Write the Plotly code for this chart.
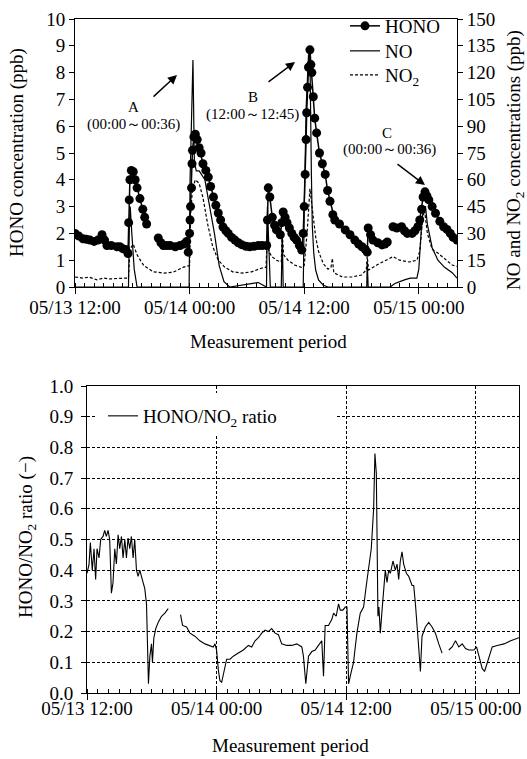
import pandas as pd
import plotly.graph_objects as go

START = pd.Timestamp("2005-05-13 12:00")
W, H = 527, 759

# ---------------- data (hours after 05/13 12:00) ----------------
HONO_T = [0.0, 0.4, 0.84, 1.2, 1.57, 2.0, 2.4, 2.83, 3.1, 3.35, 3.8, 4.4, 4.7, 5.0, 5.3, 5.55,
          5.62, 5.68, 5.75, 5.9, 6.1, 6.3, 6.5, 6.8, 7.1, 7.3, 7.5,
          8.1,
          8.72, 9.0, 9.25, 9.6, 9.95, 10.5, 11.0, 11.4, 11.7, 11.86, 12.0, 12.05, 12.1, 12.2, 12.25,
          12.3, 12.45, 12.6, 12.8, 13.0, 13.2, 13.4, 13.7, 13.96, 14.2, 14.5, 14.75, 15.0, 15.25,
          15.5, 15.8, 16.05, 16.4, 16.75, 17.1, 17.45, 17.9, 18.3, 18.75, 19.2, 19.6, 20.07, 20.15,
          20.24, 20.4, 20.66, 20.9, 21.1, 21.5, 21.65, 21.8, 22.0, 22.2, 22.45, 22.7, 22.95, 23.2,
          23.5, 23.74, 23.9, 24.0, 24.1, 24.2, 24.26, 24.35, 24.45, 24.6, 24.7, 24.8, 24.95, 25.1,
          25.3, 25.6, 25.9, 26.2, 26.45, 26.7, 27.0, 27.2, 27.7, 28.3, 28.8, 29.3, 29.7, 30.05,
          30.4, 30.6, 30.7, 30.95, 31.2, 31.7, 32.15, 32.45, 32.7,
          33.0,
          33.3, 33.7, 34.2, 34.5, 34.8, 35.3, 35.6, 35.9, 36.1, 36.3, 36.45, 36.65, 36.85, 37.05,
          37.4, 37.75, 38.2, 38.6, 38.95, 39.3, 39.6, 40.0]
HONO_V = [2.0, 1.9, 1.8, 1.78, 1.75, 1.7, 1.75, 1.95, 1.75, 1.55, 1.55, 1.5, 1.5, 1.43, 1.4, 1.25,
          2.4, 3.25, 4.0, 4.35, 4.3, 4.0, 3.7, 3.3, 2.9, 2.6, 2.35,
          None,
          1.83, 1.65, 1.55, 1.55, 1.55, 1.5, 1.55, 1.6, 1.7, 1.3, 2.0, 2.5, 3.0, 3.7, 4.6,
          5.1, 5.6, 5.7, 5.5, 5.2, 5.0, 4.6, 4.35, 4.1, 3.75, 3.36, 3.05, 2.76, 2.5,
          2.24, 2.1, 2.0, 1.85, 1.75, 1.65, 1.58, 1.52, 1.5, 1.52, 1.55, 1.55, 1.55, 2.5,
          3.7, 3.36, 2.6, 2.3, 2.13, 1.95, 2.4, 2.8, 2.6, 2.4, 2.2, 2.0, 1.85, 1.75,
          1.55, 1.38, 2.0, 3.0, 4.2, 5.5, 6.5, 7.45, 8.2, 8.85, 8.3, 8.0, 7.1, 6.3,
          5.75, 5.0, 4.6, 4.2, 3.6, 3.2, 2.7, 2.5, 2.35, 2.13, 1.95, 1.75, 1.6, 1.5,
          1.4, 1.3, 2.2, 1.95, 1.75, 1.65, 1.57, 1.6, 1.68,
          None,
          2.25, 2.2, 2.25, 2.1, 2.0, 2.0, 2.1, 2.25, 2.5, 2.9, 3.36, 3.55, 3.4, 3.25,
          3.0, 2.75, 2.45, 2.25, 2.15, 2.0, 1.85, 1.75]

NO_T = [0.0, 5.6, 5.68, 5.78, 5.95, 6.2, 6.5, 11.95, 12.05, 12.2, 12.35, 12.5, 12.7, 13.0, 13.6,
        14.1, 14.6, 15.1, 15.6, 16.2, 17.5, 18.5, 19.2, 19.7, 20.05, 20.15, 20.3, 20.45, 21.6,
        21.7, 21.8, 23.9, 24.0, 24.2, 24.45, 24.6, 24.75, 24.85, 25.0, 25.2, 25.5, 26.0, 26.5,
        30.55, 30.6, 30.7, 33.0, 33.5, 34.5, 35.1, 35.8, 36.0, 36.3, 36.5, 36.7, 36.9, 37.4,
        38.0, 38.7, 39.5, 40.0]
NO_V = [0, 0, 30, 45, 30, 10, 0, 0, 60, 100, 127, 70, 65, 65, 60,
        45, 30, 12, 3, 0, 1, 2, 2.5, 1, 0, 45, 20, 0, 0,
        30, 0, 0, 40, 100, 130, 130, 64, 34, 19, 9.5, 4, 1, 0,
        0, 14, 0, 0, 2, 4, 5, 5, 10, 35, 45, 45, 35, 22,
        15, 11, 8, 5]

NO2_T = [0.0, 0.8, 1.5, 2.3, 3.0, 3.7, 4.5, 5.2, 5.6, 5.7, 5.85, 6.1, 6.5, 7.2, 8.2, 9.3, 10.3,
         11.3, 11.9, 12.0, 12.1, 12.3, 12.6, 13.0, 13.4, 13.9, 14.4, 15.0, 15.7, 16.5, 17.5,
         18.5, 19.5, 20.0, 20.15, 20.3, 20.6, 21.1, 21.6, 21.7, 21.85, 22.3, 23.0, 23.7, 24.0,
         24.3, 24.6, 24.9, 25.2, 25.5, 26.0, 26.5, 26.8, 26.95, 27.1, 28.0, 29.0, 30.0, 30.5,
         30.6, 30.75, 31.6, 32.5, 33.3, 34.0, 35.0, 35.8, 36.1, 36.4, 36.6, 36.9, 37.4, 38.0,
         38.9, 39.5, 40.0]
NO2_V = [5.6, 5.0, 5.5, 4.0, 5.0, 4.5, 4.8, 5.0, 5.0, 15, 22, 24, 18, 12, 8.5, 7.8, 8.3,
         11, 12, 12, 40, 55, 60, 58, 50, 35, 23, 15, 11, 8.5, 7.8,
         8.5, 10.5, 11, 30, 20, 17, 15, 14, 30, 18, 15, 12.3, 11, 12,
         30, 55, 40, 28, 20, 13, 10, 11, 16, 8, 5.6, 5.6, 6.7, 9.5,
         17, 9.5, 12.3, 15, 17, 15, 14, 15, 20, 38, 43, 30, 21, 19,
         15, 12.3, 11.5]

RATIO_T = [0.0, 0.19, 0.31, 0.49, 0.65, 0.80, 0.93, 1.11, 1.27, 1.48, 1.64, 1.79, 1.95, 2.10,
           2.26, 2.41, 2.57, 2.72, 2.88, 3.03, 3.19, 3.34, 3.50, 3.65, 3.80, 3.96, 4.11, 4.27,
           4.42, 4.58, 4.73, 4.89, 5.04, 5.20, 5.35, 5.51, 5.60, 5.69, 5.82, 5.97, 6.06, 6.19,
           6.37, 6.59, 6.90, 7.21, 7.52,
           8.0,
           8.66, 8.85, 9.22, 9.53, 9.99, 10.45, 10.92, 11.38, 11.69, 11.85, 12.00, 12.16, 12.31,
           12.47, 12.68, 12.93, 13.24, 13.55, 14.01, 14.48, 14.94, 15.25, 15.56, 15.87, 16.18,
           16.49, 16.80, 17.10, 17.41, 17.72, 18.03, 18.50, 18.96, 19.42, 19.89, 20.04, 20.26,
           20.51, 20.82, 21.13, 21.43, 21.74, 21.90, 22.05, 22.36, 22.67, 22.83, 23.07, 23.29,
           23.45, 23.69, 23.91, 24.07, 24.13, 24.22, 24.44, 24.68, 24.84, 24.99, 25.30, 25.61,
           25.86, 26.07, 26.32, 26.54, 26.66, 26.79, 26.85, 26.94, 27.03, 27.16, 27.32, 27.47,
           27.62, 27.78, 27.93, 28.09, 28.33, 28.55, 28.71, 28.86, 29.01, 29.17, 29.32, 29.57,
           29.79, 30.10, 30.25, 30.41, 30.56, 30.71, 30.87, 31.02, 31.33, 31.64, 31.95, 32.26,
           32.57, 32.88,
           33.2,
           33.50, 33.81, 34.12, 34.43, 34.74, 35.05, 35.36, 35.82, 36.07, 36.28, 36.59, 36.81,
           37.06, 37.52, 37.99, 38.61, 39.23, 39.69, 40.0]
RATIO_V = [0.39, 0.42, 0.49, 0.40, 0.47, 0.37, 0.47, 0.44, 0.50, 0.51, 0.53, 0.51, 0.53, 0.50,
           0.325, 0.36, 0.47, 0.42, 0.515, 0.47, 0.51, 0.44, 0.50, 0.44, 0.505, 0.47, 0.51, 0.44,
           0.50, 0.40, 0.38, 0.40, 0.38, 0.36, 0.34, 0.29, 0.18, 0.03, 0.12, 0.16, 0.10, 0.18,
           0.21, 0.23, 0.25, 0.26, 0.275,
           None,
           0.255, 0.22, 0.215, 0.195, 0.185, 0.17, 0.16, 0.155, 0.15, 0.16, 0.14, 0.075, 0.04,
           0.035, 0.075, 0.11, 0.11, 0.12, 0.13, 0.14, 0.155, 0.15, 0.17, 0.18, 0.195,
           0.205, 0.20, 0.21, 0.195, 0.19, 0.16, 0.155, 0.155, 0.16, 0.15, 0.12, 0.03,
           0.12, 0.135, 0.14, 0.155, 0.17, 0.055, 0.22, 0.22, 0.24, 0.26, 0.25, 0.29,
           0.27, 0.27, 0.28, 0.28, 0.10, 0.03, 0.065, 0.10, 0.15, 0.195, 0.26, 0.28,
           0.35, 0.41, 0.47, 0.60, 0.78, 0.715, 0.49, 0.25, 0.28, 0.195, 0.27, 0.35,
           0.40, 0.36, 0.40, 0.39, 0.43, 0.40, 0.42, 0.37, 0.43, 0.46, 0.42, 0.39,
           0.38, 0.35, 0.35, 0.29, 0.23, 0.15, 0.07, 0.185, 0.215, 0.23, 0.215, 0.195,
           0.16, 0.13,
           None,
           0.14, 0.15, 0.17, 0.15, 0.16, 0.145, 0.14, 0.14, 0.15, 0.12, 0.08, 0.07,
           0.10, 0.15, 0.155, 0.16, 0.17, 0.175, 0.18]

TICK_HOURS = [0, 12, 24, 36]
TICK_TEXT = ["05/13 12:00", "05/14 00:00", "05/14 12:00", "05/15 00:00"]
RANGE_HOURS = [0, 40]


def to_dt(hours):
    return [START + pd.Timedelta(hours=h) for h in hours]


FONT = "Liberation Serif, Times New Roman, serif"
BLACK = "black"

fig = go.Figure()
fig.add_trace(go.Scatter(x=to_dt(HONO_T), y=HONO_V, name="HONO", mode="lines+markers",
                         line=dict(color=BLACK, width=1.5), marker=dict(color=BLACK, size=9),
                         xaxis="x", yaxis="y", legend="legend"))
fig.add_trace(go.Scatter(x=to_dt(NO_T), y=NO_V, name="NO", mode="lines",
                         line=dict(color=BLACK, width=1.2), xaxis="x", yaxis="y2", legend="legend3"))
fig.add_trace(go.Scatter(x=to_dt(NO2_T), y=NO2_V, name="NO<sub>2</sub>", mode="lines",
                         line=dict(color=BLACK, width=1.2, dash="3px,2px"),
                         xaxis="x", yaxis="y2", legend="legend4"))
fig.add_trace(go.Scatter(x=to_dt(RATIO_T), y=RATIO_V, name="HONO/NO<sub>2</sub> ratio", mode="lines",
                         line=dict(color=BLACK, width=1.1), xaxis="x2", yaxis="y3",
                         legend="legend2"))

xr = to_dt(RANGE_HOURS)
tickvals = to_dt(TICK_HOURS)
TF = dict(family=FONT, size=19, color=BLACK)

xcommon = dict(range=xr, tickvals=tickvals, ticktext=TICK_TEXT, ticks="outside", ticklen=6,
               tickcolor=BLACK, showline=True, linecolor=BLACK, linewidth=1, mirror=True,
               automargin=False, tickfont=TF,
               minor=dict(dtick=3600000, tick0=START, ticks="inside", ticklen=4, tickcolor=BLACK))


def leg(xpx, ypx, bg="rgba(0,0,0,0)"):
    return dict(x=xpx / W, y=1 - ypx / H, xanchor="left", yanchor="middle", bgcolor=bg,
                font=dict(family=FONT, size=19, color=BLACK), itemwidth=30)


fig.update_layout(
    width=W, height=H, margin=dict(l=0, r=0, t=0, b=0, autoexpand=False), autosize=False,
    paper_bgcolor="white", plot_bgcolor="white", font=dict(family=FONT, color=BLACK),
    xaxis=dict(domain=[75 / W, 457 / W], anchor="y", showgrid=False, ticklabelstandoff=-3,
               **xcommon),
    yaxis=dict(domain=[472 / H, 740 / H], anchor="x", range=[0, 10], dtick=1, ticks="outside",
               ticklen=5, tickcolor=BLACK, showline=True, linecolor=BLACK, showgrid=False,
               zeroline=False, automargin=False, tickfont=TF),
    yaxis2=dict(overlaying="y", side="right", anchor="x", range=[0, 150], dtick=15,
                ticks="outside", ticklen=5, tickcolor=BLACK, showline=True, linecolor=BLACK,
                showgrid=False, zeroline=False, automargin=False, tickfont=TF),
    xaxis2=dict(domain=[87 / W, 519 / W], anchor="y3", showgrid=True, gridcolor=BLACK,
                griddash="3px,2px", gridwidth=1, ticklabelstandoff=-8, **xcommon),
    yaxis3=dict(domain=[66 / H, 373 / H], anchor="x2", range=[0, 1.0], dtick=0.1,
                tickformat=".1f", ticks="outside", ticklen=5, tickcolor=BLACK, showline=True,
                linecolor=BLACK, mirror=True, showgrid=True, gridcolor=BLACK,
                griddash="3px,2px", gridwidth=1, zeroline=False, automargin=False,
                ticklabelstandoff=4, tickfont=TF),
    legend=leg(345, 26),
    legend3=leg(345, 51),
    legend4=leg(345, 75),
    legend2=leg(103, 416, "white"),
    showlegend=True,
    shapes=[dict(type="rect", xref="paper", yref="paper", x0=95 / W, x1=336 / W,
                 y0=1 - 432 / H, y1=1 - 393 / H, fillcolor="white", line=dict(width=0),
                 layer="above")],
)

ann = []
# axis titles
ann.append(dict(x=17 / W, y=1 - 153 / H, text="HONO concentration (ppb)", textangle=-90, size=19))
ann.append(dict(x=515 / W, y=1 - 160 / H, text="NO and NO<sub>2</sub> concentrations (ppb)",
                textangle=-90, size=19))
ann.append(dict(x=268 / W, y=1 - 341 / H, text="Measurement period", size=19))
ann.append(dict(x=290 / W, y=1 - 745 / H, text="Measurement period", size=19))
ann.append(dict(x=27 / W, y=1 - 537 / H, text="HONO/NO<sub>2</sub> ratio (\u2212)", textangle=-90,
                size=19))
# event labels
for lab, xx, yy in [("A", 133, 107), ("(00:00～00:36)", 133, 124),
                    ("B", 253, 97), ("(12:00～12:45)", 252, 114),
                    ("C", 387, 133), ("(00:00～00:36)", 389, 150)]:
    ann.append(dict(x=xx / W, y=1 - yy / H, text=lab, size=15))
for tx, ty, axp, ayp in [(177, 75, -25, 23), (295, 62, -28, 21), (425, 185, -29, -22)]:
    ann.append(dict(x=tx / W, y=1 - ty / H, text="", showarrow=True, arrowhead=2, arrowsize=1.3,
                    arrowwidth=1.4, arrowcolor=BLACK, ax=axp, ay=ayp, size=12))
for a in ann:
    a.setdefault("xref", "paper")
    a.setdefault("yref", "paper")
    a.setdefault("showarrow", False)
    if not a["showarrow"]:
        a["xanchor"] = "center"
        a["yanchor"] = "middle"
    a["font"] = dict(family=FONT, color=BLACK, size=a.pop("size"))
fig.update_layout(annotations=ann)

fig.write_html("out.html")
